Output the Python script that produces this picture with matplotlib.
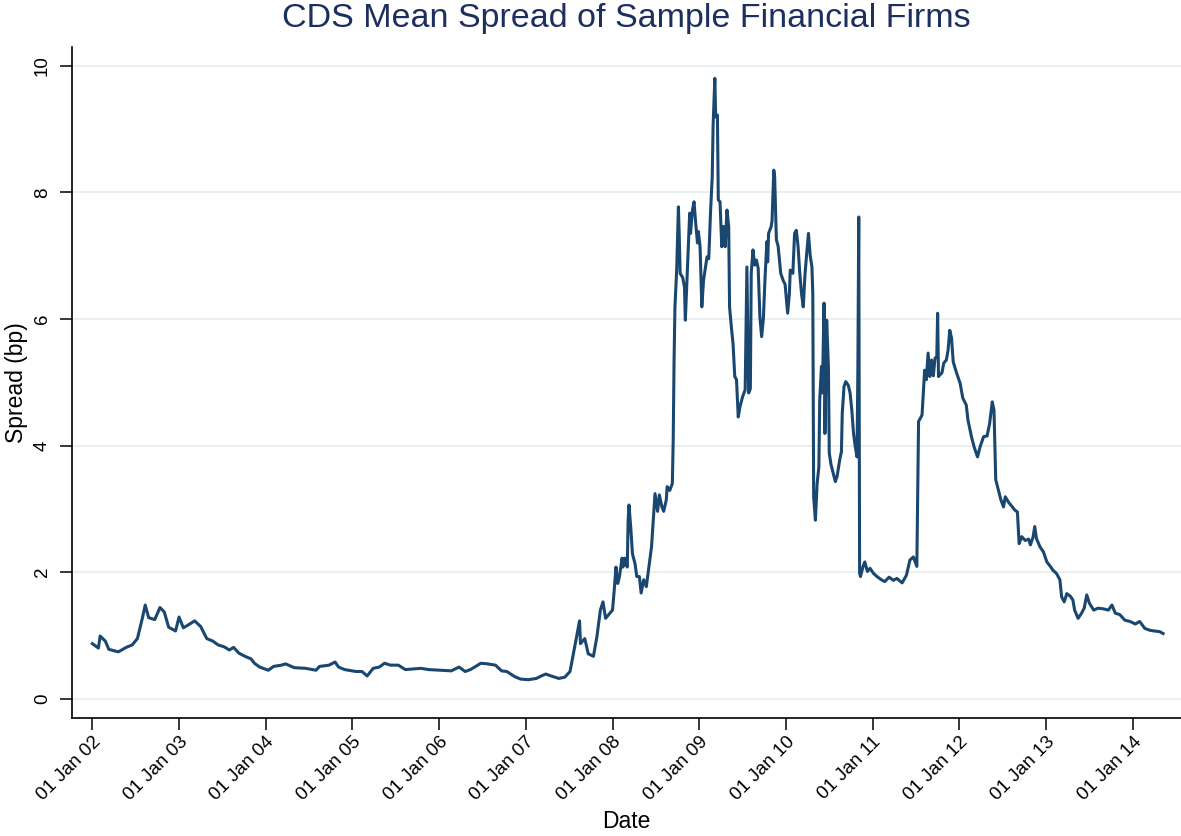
import matplotlib
matplotlib.use("Agg")
import matplotlib.pyplot as plt

# ---- data (decimal year, mean CDS spread in bp) ----
year = [
    2002.00, 2002.07, 2002.09, 2002.15, 2002.19, 2002.30, 2002.39, 2002.46, 2002.52, 2002.58,
    2002.61, 2002.65, 2002.72, 2002.78, 2002.83, 2002.88, 2002.96, 2003.00, 2003.05, 2003.10,
    2003.18, 2003.25, 2003.32, 2003.39, 2003.45, 2003.52, 2003.58, 2003.63, 2003.69, 2003.76,
    2003.83, 2003.87, 2003.93, 2004.03, 2004.09, 2004.18, 2004.23, 2004.33, 2004.46, 2004.58,
    2004.62, 2004.73, 2004.80, 2004.84, 2004.91, 2005.04, 2005.11, 2005.17, 2005.24, 2005.31,
    2005.37, 2005.44, 2005.53, 2005.61, 2005.70, 2005.79, 2005.88, 2006.01, 2006.14, 2006.23,
    2006.30, 2006.36, 2006.41, 2006.48, 2006.56, 2006.65, 2006.72, 2006.78, 2006.87, 2006.94,
    2007.03, 2007.12, 2007.18, 2007.23, 2007.29, 2007.38, 2007.45, 2007.51, 2007.57, 2007.62,
    2007.63, 2007.68, 2007.72, 2007.78, 2007.82, 2007.86, 2007.89, 2007.92, 2007.97, 2008.00,
    2008.02, 2008.04, 2008.06, 2008.08, 2008.11, 2008.12, 2008.14, 2008.17, 2008.18, 2008.19,
    2008.21, 2008.23, 2008.26, 2008.28, 2008.31, 2008.33, 2008.36, 2008.39, 2008.42, 2008.45,
    2008.47, 2008.49, 2008.52, 2008.54, 2008.57, 2008.59, 2008.62, 2008.63, 2008.66, 2008.69,
    2008.70, 2008.71, 2008.72, 2008.74, 2008.76, 2008.77, 2008.78, 2008.81, 2008.83, 2008.84,
    2008.86, 2008.89, 2008.90, 2008.92, 2008.94, 2008.96, 2008.98, 2008.99, 2009.01, 2009.03,
    2009.05, 2009.07, 2009.09, 2009.11, 2009.13, 2009.15, 2009.16, 2009.18, 2009.19, 2009.21,
    2009.22, 2009.24, 2009.26, 2009.28, 2009.30, 2009.32, 2009.34, 2009.35, 2009.37, 2009.39,
    2009.41, 2009.43, 2009.45, 2009.47, 2009.50, 2009.53, 2009.55, 2009.57, 2009.59, 2009.60,
    2009.62, 2009.64, 2009.66, 2009.68, 2009.70, 2009.72, 2009.74, 2009.76, 2009.78, 2009.79,
    2009.80, 2009.83, 2009.84, 2009.86, 2009.87, 2009.89, 2009.91, 2009.94, 2009.97, 2009.99,
    2010.02, 2010.04, 2010.05, 2010.08, 2010.10, 2010.12, 2010.14, 2010.16, 2010.18, 2010.20,
    2010.22, 2010.24, 2010.26, 2010.28, 2010.30, 2010.31, 2010.32, 2010.34, 2010.36, 2010.38,
    2010.39, 2010.41, 2010.42, 2010.44, 2010.45, 2010.47, 2010.49, 2010.50, 2010.52, 2010.54,
    2010.57, 2010.59, 2010.62, 2010.64, 2010.65, 2010.67, 2010.69, 2010.72, 2010.74, 2010.76,
    2010.78, 2010.80, 2010.82, 2010.83, 2010.84, 2010.85, 2010.86, 2010.89, 2010.91, 2010.94,
    2010.97, 2011.01, 2011.05, 2011.10, 2011.14, 2011.19, 2011.24, 2011.28, 2011.34, 2011.39,
    2011.43, 2011.47, 2011.51, 2011.53, 2011.57, 2011.60, 2011.62, 2011.64, 2011.66, 2011.68,
    2011.70, 2011.72, 2011.74, 2011.75, 2011.76, 2011.80, 2011.82, 2011.85, 2011.87, 2011.89,
    2011.91, 2011.93, 2011.97, 2012.01, 2012.04, 2012.08, 2012.10, 2012.14, 2012.17, 2012.21,
    2012.24, 2012.28, 2012.32, 2012.35, 2012.38, 2012.40, 2012.42, 2012.45, 2012.48, 2012.51,
    2012.53, 2012.57, 2012.60, 2012.64, 2012.67, 2012.69, 2012.72, 2012.76, 2012.80, 2012.82,
    2012.85, 2012.87, 2012.89, 2012.93, 2012.97, 2013.01, 2013.05, 2013.08, 2013.12, 2013.16,
    2013.18, 2013.21, 2013.24, 2013.28, 2013.31, 2013.33, 2013.37, 2013.41, 2013.44, 2013.47,
    2013.50, 2013.55, 2013.60, 2013.66, 2013.72, 2013.76, 2013.80, 2013.85, 2013.91, 2013.97,
    2014.03, 2014.08, 2014.14, 2014.20, 2014.25, 2014.31, 2014.35,
]
spread = [
    0.87, 0.80, 0.99, 0.91, 0.78, 0.74, 0.81, 0.85, 0.95, 1.29,
    1.48, 1.28, 1.25, 1.44, 1.37, 1.13, 1.07, 1.29, 1.12, 1.16,
    1.23, 1.14, 0.95, 0.91, 0.85, 0.82, 0.77, 0.81, 0.72, 0.67,
    0.63, 0.56, 0.50, 0.45, 0.51, 0.53, 0.55, 0.49, 0.48, 0.45,
    0.51, 0.53, 0.58, 0.50, 0.46, 0.43, 0.43, 0.36, 0.48, 0.50,
    0.56, 0.53, 0.53, 0.46, 0.47, 0.48, 0.46, 0.45, 0.44, 0.50,
    0.43, 0.46, 0.50, 0.56, 0.55, 0.53, 0.44, 0.43, 0.35, 0.31,
    0.30, 0.32, 0.36, 0.39, 0.36, 0.32, 0.34, 0.43, 0.87, 1.23,
    0.87, 0.95, 0.71, 0.67, 0.98, 1.40, 1.53, 1.27, 1.35, 1.40,
    1.72, 2.08, 1.82, 1.93, 2.22, 2.08, 2.22, 2.08, 2.82, 3.06,
    2.71, 2.29, 2.13, 1.93, 1.93, 1.67, 1.88, 1.77, 2.08, 2.40,
    2.82, 3.24, 2.96, 3.22, 3.03, 2.96, 3.14, 3.35, 3.29, 3.40,
    4.08, 5.35, 6.19, 6.77, 7.77, 7.30, 6.72, 6.65, 6.50, 5.98,
    6.67, 7.67, 7.35, 7.70, 7.85, 7.50, 7.20, 7.38, 7.14, 6.19,
    6.61, 6.80, 6.98, 6.95, 7.67, 8.25, 9.04, 9.80, 9.19, 9.22,
    7.88, 7.85, 7.14, 7.46, 7.14, 7.72, 7.46, 6.19, 5.88, 5.61,
    5.09, 5.04, 4.45, 4.61, 4.77, 4.88, 6.82, 4.83, 4.90, 6.72,
    7.09, 6.85, 6.93, 6.80, 6.03, 5.72, 6.00, 6.67, 7.22, 6.90,
    7.35, 7.46, 7.55, 8.35, 8.25, 7.25, 7.15, 6.72, 6.60, 6.55,
    6.09, 6.40, 6.77, 6.72, 7.35, 7.40, 7.15, 6.72, 6.40, 6.19,
    6.70, 7.04, 7.35, 7.00, 6.82, 6.40, 3.19, 2.82, 3.40, 3.66,
    4.72, 5.25, 4.83, 6.25, 4.19, 5.98, 5.25, 3.88, 3.70, 3.59,
    3.43, 3.51, 3.77, 3.90, 4.51, 4.93, 5.01, 4.95, 4.83, 4.56,
    4.19, 3.98, 3.82, 5.22, 7.61, 1.98, 1.93, 2.09, 2.16, 2.01,
    2.06, 1.98, 1.93, 1.88, 1.85, 1.92, 1.87, 1.90, 1.83, 1.95,
    2.19, 2.24, 2.09, 4.38, 4.48, 5.19, 5.04, 5.46, 5.09, 5.35,
    5.10, 5.38, 5.40, 6.09, 5.09, 5.15, 5.30, 5.35, 5.50, 5.82,
    5.70, 5.32, 5.14, 4.98, 4.75, 4.64, 4.40, 4.14, 3.98, 3.82,
    3.98, 4.14, 4.15, 4.35, 4.69, 4.56, 3.46, 3.30, 3.14, 3.03,
    3.19, 3.10, 3.05, 2.98, 2.95, 2.45, 2.56, 2.50, 2.52, 2.43,
    2.55, 2.72, 2.53, 2.40, 2.32, 2.16, 2.09, 2.03, 1.98, 1.88,
    1.61, 1.53, 1.66, 1.62, 1.56, 1.40, 1.27, 1.35, 1.43, 1.64,
    1.51, 1.40, 1.43, 1.42, 1.40, 1.48, 1.35, 1.33, 1.24, 1.22,
    1.18, 1.22, 1.11, 1.08, 1.07, 1.06, 1.03,
]
tick_years = list(range(2002, 2015))
tick_labels = ["01 Jan %02d" % (y % 100) for y in tick_years]
y_ticks = [0, 2, 4, 6, 8, 10]

plt.rcParams['font.family'] = ['Liberation Sans', 'DejaVu Sans']

W, H = 1181, 836
fig = plt.figure(figsize=(W / 100, H / 100), dpi=100)
ax = fig.add_axes([72.3 / W, 1 - 717.7 / H, (W - 72.3) / W, (717.7 - 46.7) / H])

ax.plot(year, spread, color="#1a476f", lw=2.2, solid_joinstyle="round", zorder=3)

ax.set_xlim(2001.769, 2014.557)
ax.set_ylim(-0.30, 10.30)

ax.set_yticks(y_ticks)
ax.set_yticklabels([str(v) for v in y_ticks], rotation=90, va="center")
ax.set_xticks(tick_years)
ax.set_xticklabels(tick_labels, rotation=45, ha="right", va="top", rotation_mode="anchor")

ax.tick_params(axis="both", direction="out", length=8.5, width=1.1, color="black",
               labelsize=13.5, labelcolor="black")
ax.tick_params(axis="y", pad=7)
ax.tick_params(axis="x", pad=3)

for s in ["top", "right"]:
    ax.spines[s].set_visible(False)
for s in ["left", "bottom"]:
    ax.spines[s].set_linewidth(1.2)
    ax.spines[s].set_color("black")

ax.yaxis.grid(True, color="#e8f0f2", lw=1.4, zorder=0)
ax.set_axisbelow(True)

ax.set_ylabel("Spread (bp)", fontsize=16.5)
ax.yaxis.set_label_coords(-0.04, 0.5)
ax.set_xlabel("Date", fontsize=16.5, va="top")
ax.xaxis.set_label_coords(0.5, -0.137)

fig.text(626 / W, 1 - 3 / H, "CDS Mean Spread of Sample Financial Firms",
         ha="center", va="top", fontsize=24.5, color="#1c2f5e")

fig.savefig("out.png", dpi=100, facecolor="white")
